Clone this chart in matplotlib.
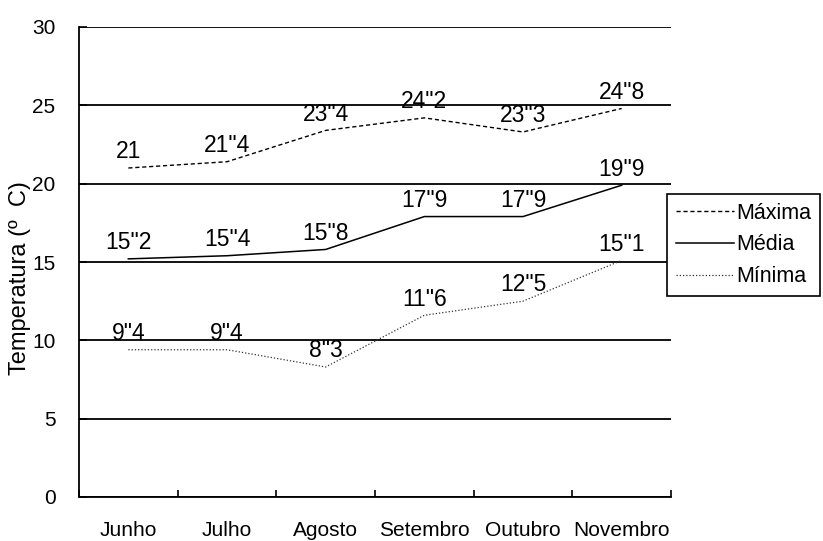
import matplotlib
matplotlib.use("Agg")
import matplotlib.pyplot as plt
import numpy as np

plt.rcParams["font.family"] = ["Liberation Sans", "DejaVu Sans"]

# ─── Dados ────────────────────────────────────────────────────────────────────
meses   = ["Junho", "Julho", "Agosto", "Setembro", "Outubro", "Novembro"]
maxima  = [21.0, 21.4, 23.4, 24.2, 23.3, 24.8]
media   = [15.2, 15.4, 15.8, 17.9, 17.9, 19.9]
minima  = [9.4, 9.4, 8.3, 11.6, 12.5, 15.1]
y_ticks = [0, 5, 10, 15, 20, 25, 30]


def rotulo(v):
    # formato do original: vírgula decimal aparece como aspas
    return f"{v:g}".replace(".", '"')


fig = plt.figure(figsize=(8.23, 5.41), dpi=100)
ax = fig.add_axes([79 / 823, 1 - 497 / 541, 592 / 823, 470 / 541])

x = np.arange(len(meses))

series = [
    (maxima, "Máxima", dict(color="black", lw=1.0, ls=(0, (3, 2)))),
    (media,  "Média",  dict(color="black", lw=1.1, ls="-")),
    (minima, "Mínima", dict(color="#333333", lw=0.9, ls=(0, (1, 1.6)))),
]
for vals, nome, estilo in series:
    ax.plot(x, vals, label=nome, **estilo)
    for xi, v in zip(x, vals):
        ax.annotate(rotulo(v), (xi, v), xytext=(0, 7), textcoords="offset points",
                    ha="center", va="baseline", fontsize=16.5)

ax.set_xlim(-0.5, len(meses) - 0.5)
ax.set_ylim(0, 30)
ax.set_yticks(y_ticks)
ax.yaxis.grid(True, color="black", lw=1.3)
ax.set_axisbelow(True)

# ticks nas divisões, rótulos no centro das categorias
ax.set_xticks(np.arange(-0.5, len(meses)))
ax.set_xticklabels([])
ax.set_xticks(x, minor=True)
ax.set_xticklabels(meses, minor=True, fontsize=15)
ax.tick_params(axis="x", which="major", direction="in", length=5, width=1.2)
ax.tick_params(axis="x", which="minor", length=0, pad=17)
ax.tick_params(axis="y", direction="in", length=6, width=1.2, labelsize=15, pad=17)

for s in ["top", "right"]:
    ax.spines[s].set_visible(False)
for s in ["left", "bottom"]:
    ax.spines[s].set_linewidth(1.3)

fig.text(20 / 823, 1 - 278 / 541, "Temperatura (º  C)", rotation=90,
         ha="center", va="center", fontsize=17)

leg = fig.legend(loc="upper left", bbox_to_anchor=(667 / 823, 1 - 194 / 541),
                 fontsize=15.5, handlelength=2.7, handletextpad=0.1,
                 labelspacing=0.5, borderpad=0.4, borderaxespad=0,
                 fancybox=False, framealpha=1)
leg.get_frame().set_edgecolor("black")
leg.get_frame().set_linewidth(1.2)

fig.savefig("out.png", dpi=100)
